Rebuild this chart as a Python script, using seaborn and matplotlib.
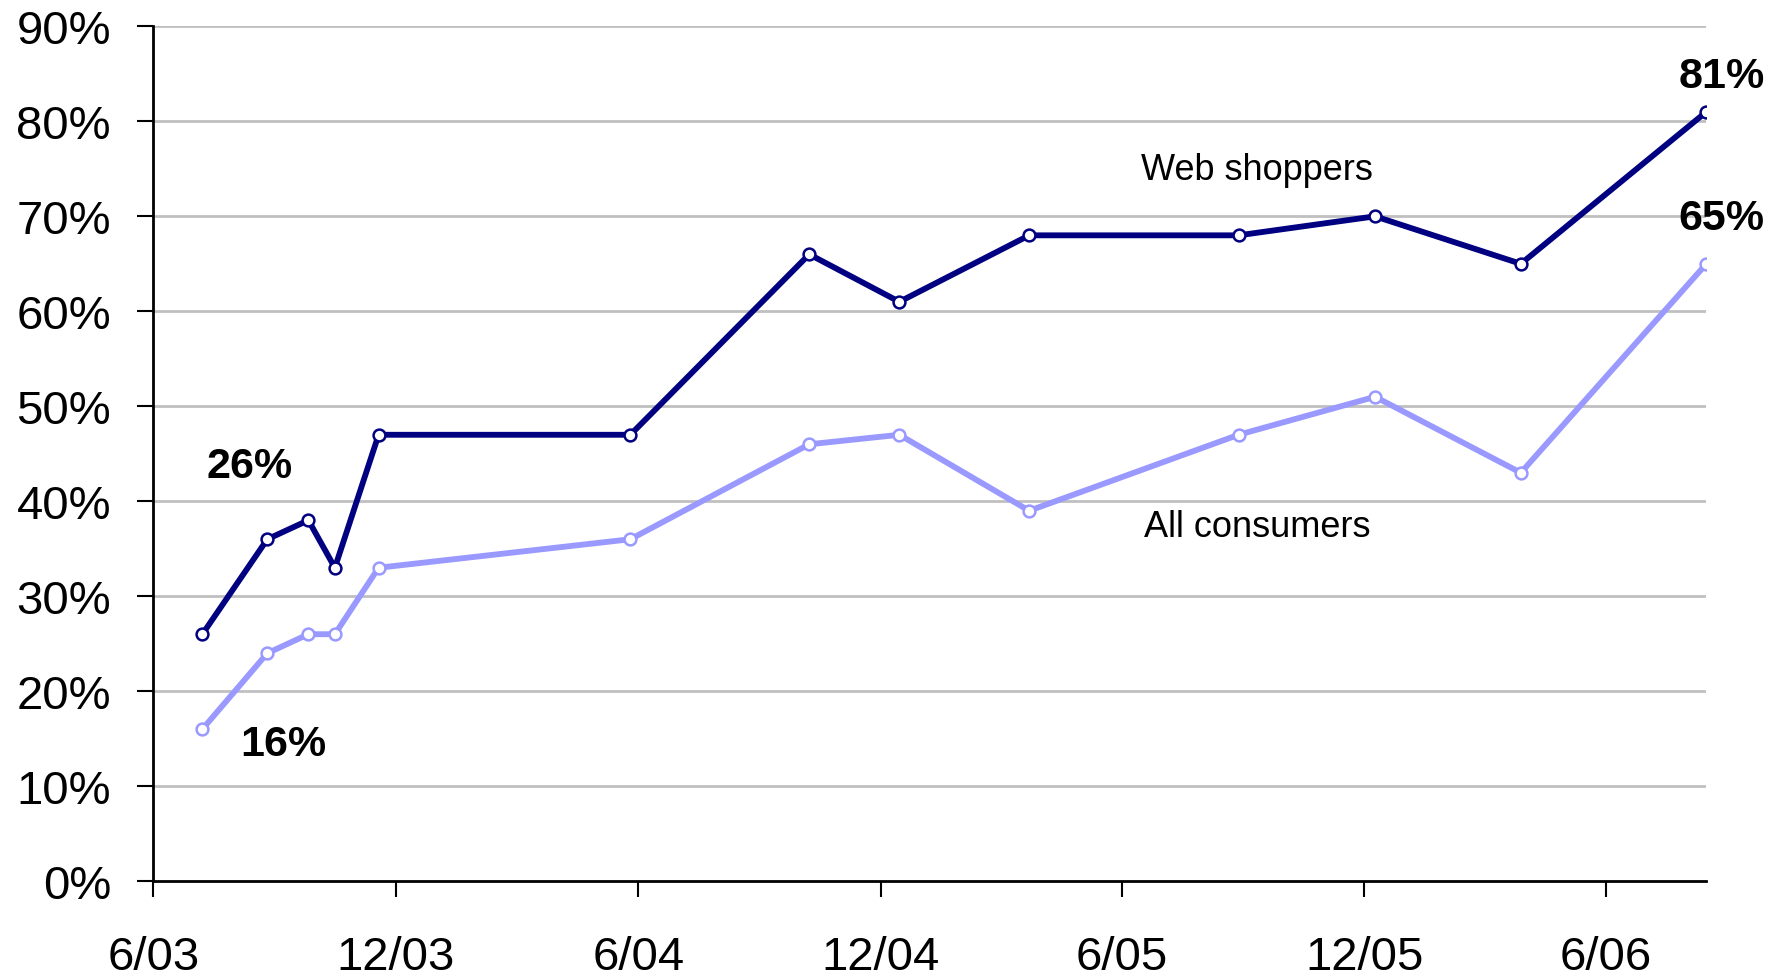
import matplotlib
matplotlib.use("Agg")
import matplotlib.pyplot as plt
import seaborn as sns
import pandas as pd

# ---- data ----
survey_dates = ["2003-07-08", "2003-08-26", "2003-09-26", "2003-10-16", "2003-11-18",
                "2004-05-26", "2004-10-08", "2004-12-15", "2005-03-23", "2005-08-28",
                "2005-12-09", "2006-03-29", "2006-08-16"]
web_shoppers = [26, 36, 38, 33, 47, 47, 66, 61, 68, 68, 70, 65, 81]
all_consumers = [16, 24, 26, 26, 33, 36, 46, 47, 39, 47, 51, 43, 65]
tick_dates = ["2003-06-01", "2003-12-01", "2004-06-01", "2004-12-01",
              "2005-06-01", "2005-12-01", "2006-06-01"]
tick_labels = ["6/03", "12/03", "6/04", "12/04", "6/05", "12/05", "6/06"]
y_ticks = [0, 10, 20, 30, 40, 50, 60, 70, 80, 90]
series_names = ["Web shoppers", "All consumers"]
series_colors = ["#000080", "#9999FF"]

sns.set_style("white")
plt.rcParams['font.family'] = ['Liberation Sans', 'DejaVu Sans']
plt.rcParams['text.color'] = 'black'

df = pd.DataFrame({"date": pd.to_datetime(survey_dates),
                   "Web shoppers": web_shoppers,
                   "All consumers": all_consumers})

fig = plt.figure(figsize=(17.83, 9.78), dpi=100)
ax = fig.add_axes([0.086, 0.098, 0.871, 0.874])

for name, col in zip(series_names, series_colors):
    sns.lineplot(data=df, x="date", y=name, color=col, linewidth=4.2,
                 marker="o", markersize=8.5, markerfacecolor="white",
                 markeredgecolor=col, markeredgewidth=1.8, ax=ax, zorder=3)

ax.set_xlim(pd.Timestamp(tick_dates[0]), pd.Timestamp(survey_dates[-1]))
ax.set_ylim(0, 90)
ax.set_xticks(pd.to_datetime(tick_dates))
ax.set_xticklabels(tick_labels)
ax.set_yticks(y_ticks)
ax.set_yticklabels([f"{v}%" for v in y_ticks])
ax.set_xlabel("")
ax.set_ylabel("")

ax.grid(False)
for v in y_ticks[1:]:
    ax.axhline(v, color="#C0C0C0", linewidth=2, zorder=1)

for s in ["top", "right"]:
    ax.spines[s].set_visible(False)
for s in ["left", "bottom"]:
    ax.spines[s].set_color("black")
    ax.spines[s].set_linewidth(2)
    ax.spines[s].set_zorder(2)

ax.tick_params(axis="both", direction="out", length=11.5, width=1.5,
               color="black", labelsize=34, labelcolor="black",
               left=True, bottom=True)
ax.tick_params(axis="y", pad=19)
ax.tick_params(axis="x", pad=27)

# ---- annotations ----
d = df["date"]
ax.annotate("26%", xy=(d.iloc[0], web_shoppers[0]), xytext=(34, 121),
            textcoords="offset points", ha="center", va="center",
            fontsize=31, fontweight="bold", color="black")
ax.annotate("16%", xy=(d.iloc[0], all_consumers[0]), xytext=(58, -11),
            textcoords="offset points", ha="center", va="center",
            fontsize=31, fontweight="bold", color="black")
ax.annotate("81%", xy=(d.iloc[-1], web_shoppers[-1]), xytext=(11, 26),
            textcoords="offset points", ha="center", va="center",
            fontsize=31, fontweight="bold", color="black", annotation_clip=False)
ax.annotate("65%", xy=(d.iloc[-1], all_consumers[-1]), xytext=(11, 33),
            textcoords="offset points", ha="center", va="center",
            fontsize=31, fontweight="bold", color="black", annotation_clip=False)
ax.text(pd.Timestamp("2005-09-11"), 74.9, series_names[0], ha="center",
        va="center", fontsize=26, color="black")
ax.text(pd.Timestamp("2005-09-11"), 37.3, series_names[1], ha="center",
        va="center", fontsize=26, color="black")

fig.savefig("out.png", dpi=100)
